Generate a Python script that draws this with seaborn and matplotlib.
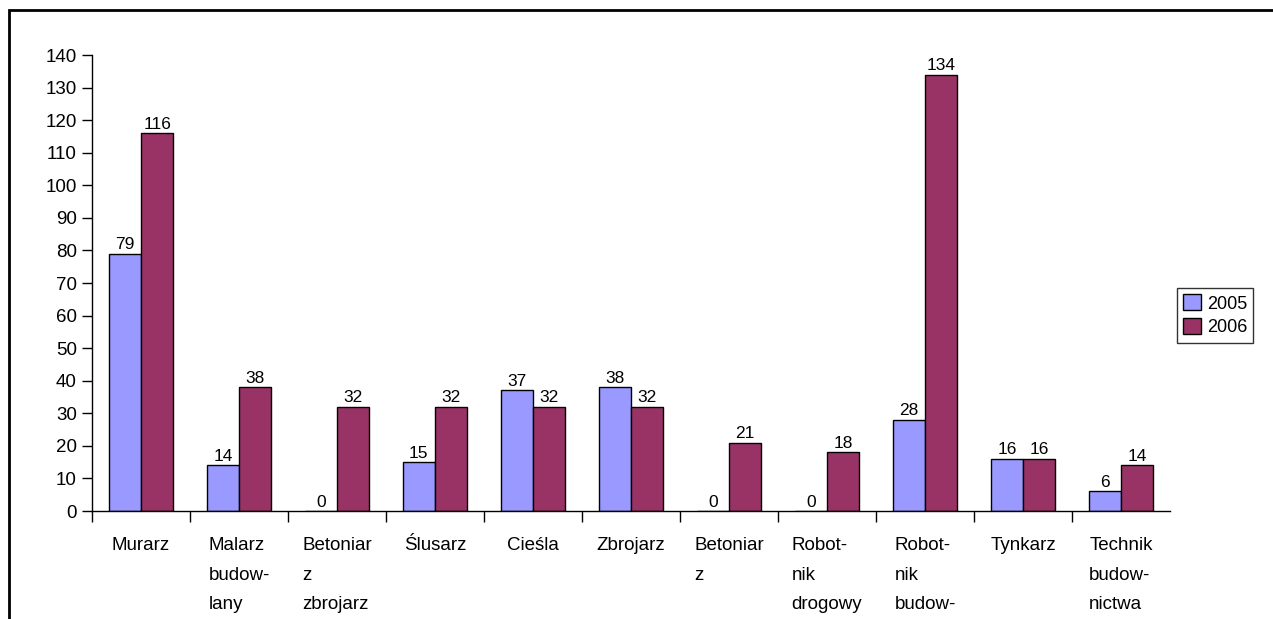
import matplotlib
matplotlib.use("Agg")
import matplotlib.pyplot as plt
import seaborn as sns
import pandas as pd
import numpy as np
from matplotlib.patches import Rectangle

categories = ["Murarz", "Malarz\nbudow-\nlany", "Betoniar\nz\nzbrojarz", "Ślusarz", "Cieśla",
              "Zbrojarz", "Betoniar\nz", "Robot-\nnik\ndrogowy", "Robot-\nnik\nbudow-",
              "Tynkarz", "Technik\nbudow-\nnictwa"]
series_names = ["2005", "2006"]
values_2005 = [79, 14, 0, 15, 37, 38, 0, 0, 28, 16, 6]
values_2006 = [116, 38, 32, 32, 32, 32, 21, 18, 134, 16, 14]
y_ticks = list(range(0, 141, 10))

sns.set_theme(style="white")
plt.rcParams['font.family'] = ['Liberation Sans', 'DejaVu Sans']
plt.rcParams['text.color'] = 'black'
plt.rcParams['xtick.color'] = 'black'
plt.rcParams['ytick.color'] = 'black'
plt.rcParams['axes.labelcolor'] = 'black'

df = pd.DataFrame({
    "cat": categories * 2,
    "year": [series_names[0]] * len(categories) + [series_names[1]] * len(categories),
    "val": values_2005 + values_2006,
})

fig = plt.figure(figsize=(12.73, 6.19), dpi=100)
ax = fig.add_axes([92 / 1273, 1 - 511 / 619, (1170 - 92) / 1273, (511 - 55) / 619])

sns.barplot(data=df, x="cat", y="val", hue="year", order=categories,
            palette={"2005": "#9999FF", "2006": "#993366"},
            width=0.66, edgecolor="black", linewidth=1.0, ax=ax, saturation=1)

for cont in ax.containers:
    ax.bar_label(cont, fmt="%d", padding=1, fontsize=12.5, color="black")

ax.set_xlim(-0.5, len(categories) - 0.5)
ax.set_ylim(0, 140)
ax.set_yticks(y_ticks)
ax.set_xlabel("")
ax.set_ylabel("")

for s in ["top", "right"]:
    ax.spines[s].set_visible(False)
for s in ["left", "bottom"]:
    ax.spines[s].set_color("black")
    ax.spines[s].set_linewidth(1.0)

ax.tick_params(axis="y", which="major", direction="out", length=7, width=1,
               color="black", labelcolor="black", labelsize=13.5, pad=4, left=True)
ax.set_xticks(range(len(categories)))
ax.set_xticklabels(categories, fontsize=13.5, linespacing=1.95, va="top", ha="center",
                   multialignment="left", color="black")
ax.tick_params(axis="x", which="major", length=0, pad=19)
ax.set_xticks(np.arange(-0.5, len(categories) - 1, 1.0), minor=True)
ax.tick_params(axis="x", which="minor", direction="out", length=8, width=1,
               color="black", bottom=True)

ax.legend_.remove()
handles = [Rectangle((0, 0), 1, 1, facecolor=c, edgecolor="black", linewidth=1.0)
           for c in ["#9999FF", "#993366"]]
leg = fig.legend(handles, series_names, loc="upper left",
                 bbox_to_anchor=(1177 / 1273, 1 - 288 / 619),
                 bbox_transform=fig.transFigure, fontsize=13, frameon=True,
                 fancybox=False, handlelength=1.0, handleheight=1.0,
                 handletextpad=0.3, borderpad=0.35, labelspacing=0.3,
                 borderaxespad=0)
leg.get_frame().set_edgecolor("black")
leg.get_frame().set_linewidth(1.0)
for t in leg.get_texts():
    t.set_color("black")

top = 1 - 10 / 619
frame = Rectangle((9 / 1273, -0.2), 1.2, top + 0.2,
                  transform=fig.transFigure, fill=False, edgecolor="black",
                  linewidth=2, clip_on=False)
fig.patches.append(frame)

fig.savefig("out.png", dpi=100)
